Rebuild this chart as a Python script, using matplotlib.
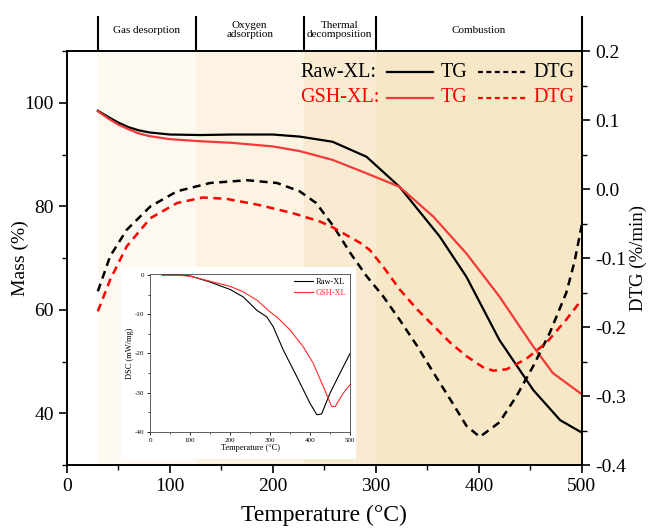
import numpy as np
import matplotlib
matplotlib.use("Agg")
import matplotlib.pyplot as plt
from matplotlib.lines import Line2D
from matplotlib.ticker import MultipleLocator, FormatStrFormatter

plt.rcParams["font.family"] = ["Liberation Serif", "DejaVu Serif"]
plt.rcParams["axes.unicode_minus"] = False

# ---- TG (Mass %) ----
raw_tg_x = [30, 40, 50, 60, 70, 80, 100, 130, 160, 200, 226, 258, 291, 323, 362, 388, 420, 453, 479, 500]
raw_tg_y = [98.5, 97.3, 96.2, 95.3, 94.7, 94.3, 93.9, 93.8, 93.9, 93.9, 93.5, 92.5, 89.6, 83.8, 74.2, 66.4, 54.2, 44.5, 38.7, 36.3]
gsh_tg_x = [30, 40, 50, 60, 70, 80, 100, 130, 160, 200, 226, 258, 291, 323, 356, 388, 420, 453, 472, 500]
gsh_tg_y = [98.4, 97.0, 95.8, 94.9, 94.1, 93.6, 93.0, 92.6, 92.3, 91.6, 90.7, 89.0, 86.4, 83.8, 78.0, 70.9, 62.6, 52.9, 47.8, 43.7]

# ---- DTG (%/min) ----
raw_dtg_x = [30, 42, 58, 81, 107, 139, 175, 204, 226, 242, 259, 275, 291, 307, 323, 340, 356, 372, 388, 401, 420, 437, 453, 469, 485, 493, 500]
raw_dtg_y = [-0.148, -0.097, -0.059, -0.025, -0.003, 0.009, 0.013, 0.009, -0.003, -0.020, -0.054, -0.092, -0.126,
             -0.155, -0.189, -0.227, -0.266, -0.304, -0.343, -0.359, -0.338, -0.299, -0.256, -0.208, -0.150, -0.105, -0.052]
gsh_dtg_x = [30, 42, 58, 81, 107, 132, 155, 187, 220, 246, 259, 285, 294, 307, 323, 340, 356, 372, 388, 404, 414, 427, 446, 466, 485, 500]
gsh_dtg_y = [-0.177, -0.131, -0.083, -0.042, -0.020, -0.012, -0.014, -0.023, -0.035, -0.047, -0.056, -0.078, -0.088,
             -0.112, -0.145, -0.174, -0.198, -0.222, -0.242, -0.258, -0.263, -0.261, -0.246, -0.222, -0.189, -0.160]

# ---- DSC inset ----
raw_dsc_x = [30, 70, 100, 150, 200, 233, 267, 292, 308, 333, 367, 400, 417, 429, 450, 475, 500]
raw_dsc_y = [0, 0, -0.25, -1.8, -3.7, -5.6, -9.0, -10.7, -13.2, -19.1, -25.9, -32.7, -35.6, -35.4, -30.1, -25.0, -20.0]
gsh_dsc_x = [30, 70, 100, 150, 200, 233, 267, 300, 317, 350, 383, 408, 433, 454, 463, 483, 500]
gsh_dsc_y = [0, -0.1, -0.3, -1.6, -2.9, -4.3, -6.4, -9.4, -10.7, -14.0, -18.3, -22.5, -28.4, -33.5, -33.5, -30.1, -28.0]

# ---- stages ----
stage_edges = [30, 125, 230, 300, 500]
stage_names = ["Gas desorption", "Oxygen\nadsorption", "Thermal\ndecomposition", "Combustion"]
stage_colors = ["#fdf9f1", "#fcf3e3", "#f8ebd1", "#f6e7c6"]

fig = plt.figure(figsize=(6.5, 5.28), dpi=100)
ax = fig.add_axes([0.103, 0.119, 0.792, 0.784])

for i in range(len(stage_names)):
    ax.axvspan(stage_edges[i], stage_edges[i + 1], color=stage_colors[i], lw=0, zorder=0)
    ax.text((stage_edges[i] + stage_edges[i + 1]) / 2, 1.051, stage_names[i], transform=ax.get_xaxis_transform(),
            ha="center", va="center", fontsize=8, linespacing=0.95)
ax.vlines(stage_edges, 1.0, 1.085, transform=ax.get_xaxis_transform(), colors="black", lw=1.5, clip_on=False)

ax.plot(raw_tg_x, raw_tg_y, color="black", lw=1.6, zorder=3)
ax.plot(gsh_tg_x, gsh_tg_y, color="#f23a3a", lw=1.6, zorder=3)
ax.set_xlim(0, 500)
ax.set_ylim(30, 110)
ax.xaxis.set_major_locator(MultipleLocator(100))
ax.xaxis.set_minor_locator(MultipleLocator(50))
ax.yaxis.set_major_locator(MultipleLocator(20))
ax.yaxis.set_minor_locator(MultipleLocator(10))
ax.set_xlabel("Temperature (°C)", fontsize=17, labelpad=7)
ax.set_ylabel("Mass (%)", fontsize=14, labelpad=-3)

ax2 = ax.twinx()
ax2.plot(raw_dtg_x, raw_dtg_y, color="black", lw=1.8, ls=(0, (3.2, 2.2)))
ax2.plot(gsh_dtg_x, gsh_dtg_y, color="#ff0000", lw=1.8, ls=(0, (3.2, 2.2)))
ax2.set_ylim(-0.4, 0.2)
ax2.yaxis.set_major_locator(MultipleLocator(0.1))
ax2.yaxis.set_minor_locator(MultipleLocator(0.05))
ax2.yaxis.set_major_formatter(FormatStrFormatter("%.1f"))
ax2.set_ylabel("DTG (%/min)", fontsize=13.5, labelpad=3)

for a in (ax, ax2):
    a.tick_params(which="major", direction="out", length=6, width=1.2, labelsize=14)
    a.tick_params(which="minor", direction="out", length=3.5, width=1.0)
    for s in a.spines.values():
        s.set_linewidth(1.2)

# legend built from text + lines
rows = [(0.8636, "Raw-XL:", "black", "black", "black"),
        (0.8144, "GSH-XL:", "#ff0000", "#f23a3a", "#ff0000")]
for y, name, tc, c1, c2 in rows:
    fig.text(0.4615, y, name, color=tc, fontsize=14.5, va="center")
    fig.add_artist(Line2D([0.595, 0.666], [y, y], color=c1, lw=1.6, transform=fig.transFigure))
    fig.text(0.678, y, "TG", color=tc, fontsize=14.5, va="center")
    fig.add_artist(Line2D([0.736, 0.809], [y, y], color=c2, lw=1.6, ls=(0, (2.2, 1.6)), transform=fig.transFigure))
    fig.text(0.820, y, "DTG", color=tc, fontsize=14.5, va="center")

# white backing for inset
bg = fig.add_axes([0.186, 0.131, 0.362, 0.364])
bg.set_facecolor("white")
bg.set_xticks([])
bg.set_yticks([])
for s in bg.spines.values():
    s.set_visible(False)

ins = fig.add_axes([0.2308, 0.1818, 0.3077, 0.299])
ins.plot(raw_dsc_x, raw_dsc_y, color="black", lw=0.8, label="Raw-XL")
ins.plot(gsh_dsc_x, gsh_dsc_y, color="#ff2a2a", lw=0.8, label="GSH-XL")
ins.set_xlim(0, 500)
ins.set_ylim(-40, 0.2)
ins.xaxis.set_major_locator(MultipleLocator(100))
ins.xaxis.set_minor_locator(MultipleLocator(50))
ins.yaxis.set_major_locator(MultipleLocator(10))
ins.yaxis.set_minor_locator(MultipleLocator(5))
ins.tick_params(which="major", direction="out", length=2.5, width=0.6, labelsize=5, pad=1.5)
ins.tick_params(which="minor", direction="out", length=1.5, width=0.5)
for s in ins.spines.values():
    s.set_linewidth(0.6)
    s.set_color("#444444")
ins.set_xlabel("Temperature (°C)", fontsize=6, labelpad=1)
ins.set_ylabel("DSC (mW/mg)", fontsize=6, labelpad=1)
leg = ins.legend(loc="upper right", fontsize=6, frameon=False, handlelength=2.2, handletextpad=0.3,
                 borderaxespad=0.1, labelspacing=0.3)
for t, c in zip(leg.get_texts(), ["black", "#ff2a2a"]):
    t.set_color(c)

fig.savefig("out.png", dpi=100)
